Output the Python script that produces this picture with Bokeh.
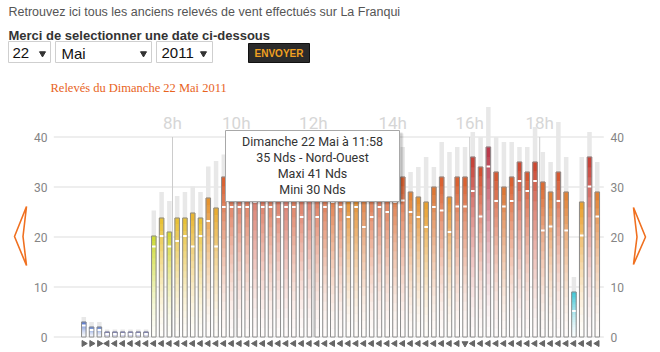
import math
from bokeh.plotting import figure
from bokeh.models import Range1d
from bokeh.core.properties import value
from bokeh.embed import file_html
from bokeh.resources import INLINE

# ---------------- data ----------------
vent_moy = [3, 2, 2, 1, 1, 1, 1, 1, 1,
            20.2, 23.8, 21, 23.8, 23.8, 24.8, 23.8, 27.8, 25.8, 32,
            33, 34, 33, 35, 34, 33, 34, 35, 33, 34, 35, 33, 32, 31, 32, 28, 28, 30, 32, 33, 32, 31,
            32, 29, 28, 27, 30, 32, 28, 32, 32, 36, 34, 38, 33, 30, 32, 35, 33, 35, 31, 29, 33, 29,
            9, 27, 36, 29]
vent_max = [4, 3, 3, 1.5, 1.5, 1.5, 1.5, 1.5, 1.5,
            25.3, 29, 27.2, 28.2, 29, 30.1, 29, 34.1, 35.2, 36.5,
            38, 39, 38, 40, 39, 38, 39, 40, 38, 39, 41, 38, 37, 36, 37, 34, 34, 36, 38, 39, 38, 37,
            38, 33, 34, 36, 34, 39, 37, 38, 38, 41, 40, 46, 40, 39, 39, 38, 38, 42, 37, 35, 43, 36,
            12, 36, 41, 35]
vent_min = [2.3, 1.4, 1.4, 0.6, 0.6, 0.6, 0.6, 0.6, 0.6,
            18.1, 20.2, 18.1, 19.2, 20.2, 18.1, 20.2, 23.2, 18.1, 26,
            26, 26, 26, 27, 26, 26, 24, 26, 26, 24, 30, 24, 26, 27, 26, 24, 26, 22, 24, 26, 25, 27,
            27.3, 25, 24, 22, 26, 25.3, 21, 26.1, 26.1, 29.2, 24.1, 34.1, 27.2, 26.1, 27.2, 31.2,
            29.2, 31.2, 21.3, 22.1, 27.2, 21.3, 5.2, 20.3, 30.1, 24.1]
# arrow heading in degrees (0 = towards the right, 180 = towards the left)
direction = [0, 0, 0] + [180] * 46 + [270] + [180] * 17

hour_ticks = [11.4, 19.6, 29.5, 39.7, 49.6, 58.6]
hour_labels = ["8h", "10h", "12h", "14h", "16h", "18h"]
y_ticks = [0, 10, 20, 30, 40]

survol = 29
survol_texte = "Dimanche 22 Mai à 11:58"
survol_dir = "Nord-Ouest"

# speed -> colour stops
stop_v = [0, 1, 2, 3, 9, 20, 24, 27, 29, 32, 35, 38]
stop_c = ["#7070d8", "#6a70d0", "#5b7fd6", "#4a6ed0", "#36c6d6", "#cbdc2c", "#e8bc2c",
          "#e89c24", "#e07c2c", "#d85a28", "#cc4028", "#b83244"]

# ---------------- helpers ----------------
def rgb(h):
    h = h.lstrip("#")
    return [int(h[i:i + 2], 16) for i in (0, 2, 4)]

def speed_color(v):
    if v <= stop_v[0]:
        return stop_c[0]
    for j in range(1, len(stop_v)):
        if v <= stop_v[j]:
            t = (v - stop_v[j - 1]) / (stop_v[j] - stop_v[j - 1])
            a, b = rgb(stop_c[j - 1]), rgb(stop_c[j])
            return "#%02x%02x%02x" % tuple(round(a[k] + (b[k] - a[k]) * t) for k in range(3))
    return stop_c[-1]

def mix(c, f):
    r = rgb(c)
    return "#%02x%02x%02x" % tuple(round(255 - (255 - x) * f) for x in r)

W, H = 660, 352
X0, DX = 83.3, 7.78
Y0, DY = 336.5, 5.0
HW = 0.29

p = figure(width=W, height=H, output_backend="svg", toolbar_location=None,
           x_range=Range1d(0, W), y_range=Range1d(H, 0),
           x_axis_type=None, y_axis_type=None, min_border=0,
           outline_line_color=None, background_fill_color="white", border_fill_color="white")
p.extra_x_ranges = {"idx": Range1d(-X0 / DX, (W - X0) / DX)}
p.extra_y_ranges = {"kn": Range1d((Y0 - H) / DY, Y0 / DY)}

FONT = value("Roboto")

# horizontal grid
p.segment(x0=[53.3] * len(y_ticks), x1=[603.3] * len(y_ticks), y0=y_ticks, y1=y_ticks,
          y_range_name="kn", line_color="#dddddd", line_width=1)
# hour lines
p.segment(x0=hour_ticks, x1=hour_ticks, y0=[0] * len(hour_ticks), y1=[40] * len(hour_ticks),
          x_range_name="idx", y_range_name="kn", line_color="#cccccc", line_width=1)
# hour labels
p.text(x=hour_ticks, y=[122] * len(hour_ticks), text=hour_labels, x_range_name="idx",
       text_font=FONT, text_font_size="17px", text_color="#d6d6d6",
       text_align="center", text_baseline="middle")
# y labels
p.text(x=[47] * len(y_ticks), y=y_ticks, text=[str(t) for t in y_ticks], y_range_name="kn",
       text_font=FONT, text_font_size="12px", text_color="#858585",
       text_align="right", text_baseline="middle")
p.text(x=[610] * len(y_ticks), y=y_ticks, text=[str(t) for t in y_ticks], y_range_name="kn",
       text_font=FONT, text_font_size="12px", text_color="#858585",
       text_align="left", text_baseline="middle")

idx = list(range(len(vent_moy)))
# max bars (light grey)
p.quad(left=[i - HW for i in idx], right=[i + HW for i in idx], bottom=[0] * len(idx), top=vent_max,
       x_range_name="idx", y_range_name="kn", fill_color="#e8e8e8", line_color=None)

# gradient bars
N = 18
L, R, B, T, C = [], [], [], [], []
for i, a in enumerate(vent_moy):
    c = speed_color(a)
    for k in range(N):
        f = ((k + 0.5) / N) ** 1.5
        L.append(i - HW); R.append(i + HW)
        B.append(a * k / N); T.append(a * (k + 1) / N)
        C.append(mix(c, 0.02 + 0.98 * f))
p.quad(left=L, right=R, bottom=B, top=T, fill_color=C, line_color=C, line_width=0.5,
       x_range_name="idx", y_range_name="kn")
# outline
p.quad(left=[i - HW for i in idx], right=[i + HW for i in idx], bottom=[0] * len(idx), top=vent_moy,
       x_range_name="idx", y_range_name="kn", fill_color=None, line_color="#8c8c8c", line_width=1)
# min ticks
p.segment(x0=[i - HW + 0.06 for i in idx], x1=[i + HW - 0.06 for i in idx], y0=vent_min, y1=vent_min,
          x_range_name="idx", y_range_name="kn", line_color="white", line_width=2)
# direction arrows
p.scatter(x=idx, y=[-1.3] * len(idx), marker="triangle", size=6,
          angle=[math.radians(d - 90) for d in direction],
          x_range_name="idx", y_range_name="kn", fill_color="#666666", line_color="#666666")

# tooltip
p.quad(left=[227, 228], right=[402, 403], top=[132, 133], bottom=[203, 204],
       fill_color="#000000", fill_alpha=[0.12, 0.08], line_color=None)
p.quad(left=[225], right=[399], top=[130], bottom=[201], fill_color="white",
       line_color="#a8a8a8", line_width=1)
tip = [survol_texte,
       f"{vent_moy[survol]:g} Nds - {survol_dir}",
       f"Maxi {vent_max[survol]:g} Nds",
       f"Mini {vent_min[survol]:g} Nds"]
p.text(x=[312] * 4, y=[141, 157, 173, 189], text=tip, text_font=FONT, text_font_size="12.5px",
       text_color="#333333", text_align="center", text_baseline="middle")

# chevrons
p.patch(x=[26, 14, 26, 22.5], y=[206, 236, 265, 236], fill_color="white",
        line_color="#f07020", line_width=1.6)
p.patch(x=[633, 645, 633, 636.5], y=[207, 236.5, 264, 236.5], fill_color="white",
        line_color="#f07020", line_width=1.6)

# header texts
p.text(x=[8], y=[11], text=["Retrouvez ici tous les anciens relevés de vent effectués sur La Franqui"],
       text_font=value("Liberation Sans"), text_font_size="12.5px", text_color="#555555",
       text_baseline="middle")
p.text(x=[8], y=[35], text=["Merci de selectionner une date ci-dessous"],
       text_font=value("Liberation Sans"), text_font_size="13px", text_font_style="bold",
       text_color="#333333", text_baseline="middle")
# select boxes
p.quad(left=[8, 55, 156], right=[50, 151, 212], top=[41, 41, 41], bottom=[62, 62, 62],
       fill_color="white", line_color="#cfcfcf", line_width=1)
p.text(x=[12, 61, 161], y=[52.5, 52.5, 52.5], text=["22", "Mai", "2011"],
       text_font=value("Liberation Sans"), text_font_size="15px", text_color="#111111",
       text_baseline="middle")
p.scatter(x=[42, 143, 203], y=[53, 53, 53], marker="inverted_triangle", size=6,
          fill_color="#333333", line_color="#333333")
# button
p.quad(left=[248], right=[309], top=[43], bottom=[62], fill_color="#2b2b2b", line_color="#111111")
p.text(x=[278.5], y=[52.5], text=["ENVOYER"], text_font=value("Liberation Sans"),
       text_font_size="10px", text_font_style="bold", text_color="#f0a020",
       text_align="center", text_baseline="middle")
p.text(x=[50], y=[87], text=["Relevés du Dimanche 22 Mai 2011"], text_font=value("Liberation Serif"),
       text_font_size="12.5px", text_color="#e8641e", text_baseline="middle")

open("out.html", "w").write(file_html(p, INLINE))
